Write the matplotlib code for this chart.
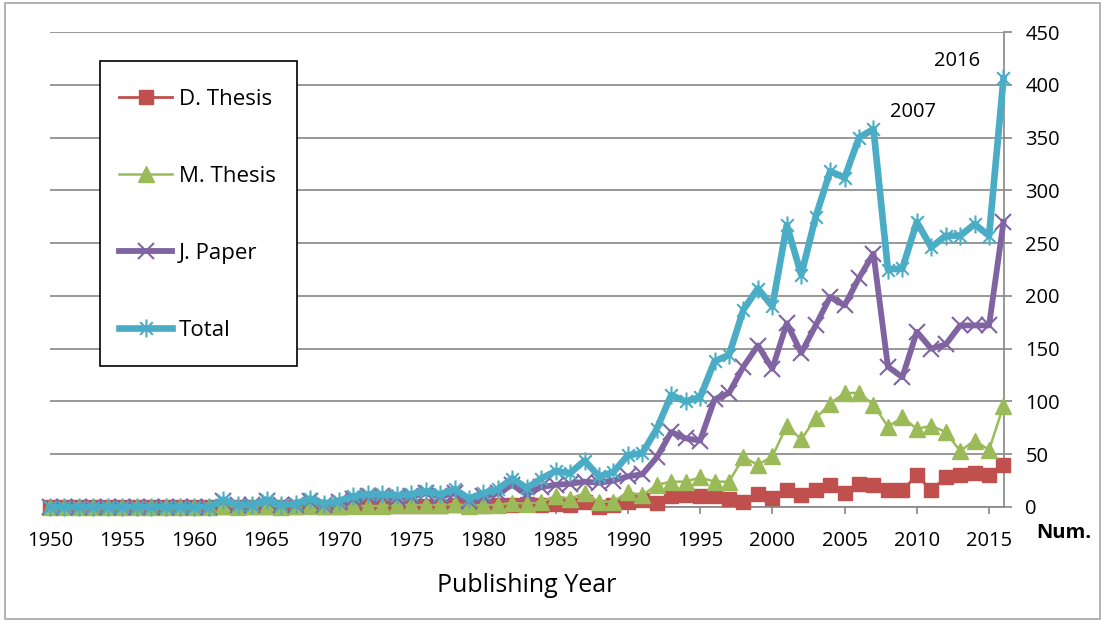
import matplotlib.pyplot as plt
import numpy as np
from matplotlib.path import Path
from matplotlib.patches import Rectangle

plt.rcParams['font.family'] = ['Open Sans', 'DejaVu Sans']

# publication counts per year
years = np.arange(1950, 2017)

d_thesis = [0, 0, 0, 0, 0, 0, 0, 0, 0, 0,
            0, 0, 0, 0, 0, 0, 0, 0, 1, 0,
            0, 1, 1, 1, 1, 1, 1, 1, 2, 1,
            1, 2, 2, 3, 2, 3, 2, 5, 0, 2,
            5, 7, 4, 10, 11, 10, 10, 8, 5, 12,
            9, 16, 11, 16, 21, 13, 22, 21, 16, 16,
            30, 16, 28, 30, 32, 30, 40]

m_thesis = [0, 0, 0, 0, 0, 0, 0, 0, 0, 0,
            0, 0, 1, 0, 1, 1, 0, 1, 1, 1,
            1, 1, 1, 1, 2, 2, 2, 2, 3, 1,
            2, 2, 4, 3, 5, 10, 8, 13, 5, 5,
            14, 11, 21, 24, 24, 28, 24, 24, 47, 40,
            48, 77, 64, 84, 98, 108, 108, 97, 76, 85,
            74, 77, 71, 53, 63, 54, 96]

j_paper = [0, 0, 0, 0, 0, 0, 0, 0, 0, 0,
           0, 0, 6, 2, 2, 6, 2, 2, 6, 2,
           5, 8, 10, 10, 9, 10, 13, 10, 13, 6,
           10, 13, 21, 12, 19, 21, 22, 24, 23, 25,
           29, 31, 47, 71, 65, 63, 102, 108, 133, 153,
           131, 174, 146, 172, 199, 191, 217, 240, 133, 123,
           166, 150, 154, 172, 172, 172, 270]

total = [0, 0, 0, 0, 0, 0, 0, 0, 0, 0,
         0, 0, 7, 2, 2, 7, 2, 3, 8, 3,
         6, 10, 12, 12, 11, 12, 15, 12, 17, 8,
         13, 17, 27, 18, 27, 34, 32, 44, 29, 33,
         49, 51, 74, 106, 100, 104, 138, 144, 187, 207,
         190, 267, 220, 275, 318, 312, 350, 358, 225, 226,
         270, 246, 257, 257, 268, 257, 406]

W, H = 1101, 621
fig = plt.figure(figsize=(W / 100, H / 100), dpi=100)
ax = fig.add_axes([50 / W, 1 - 507 / H, (1003.5 - 50) / W, (507 - 32) / H])

# asterisk marker: vertical bar plus an x
star = Path([(0, -1), (0, 1), (-0.7, -0.7), (0.7, 0.7), (-0.7, 0.7), (0.7, -0.7)],
            [Path.MOVETO, Path.LINETO, Path.MOVETO, Path.LINETO, Path.MOVETO, Path.LINETO])

ax.plot(years, d_thesis, color='#C0504D', lw=2, marker='s', ms=10,
        label='D. Thesis', clip_on=False, zorder=3)
ax.plot(years, m_thesis, color='#9BBB59', lw=1.8, marker='^', ms=11,
        label='M. Thesis', clip_on=False, zorder=4)
ax.plot(years, j_paper, color='#8064A2', lw=4.2, marker='x', ms=11, mew=1.5,
        label='J. Paper', clip_on=False, zorder=5)
ax.plot(years, total, color='#4BACC6', lw=4.8, marker=star, ms=13, mew=1.5,
        mfc='none', label='Total', clip_on=False, zorder=6)

ax.set_xlim(1950, 2016)
ax.set_ylim(0, 450)
ax.set_xticks(range(1950, 2016, 5))
ax.set_yticks(range(0, 451, 50))
ax.yaxis.tick_right()
ax.grid(axis='y', color='#868686', lw=1.2)
ax.set_axisbelow(True)

for side in ['left', 'top']:
    ax.spines[side].set_visible(False)
for side in ['right', 'bottom']:
    ax.spines[side].set_color('#868686')
    ax.spines[side].set_linewidth(1.2)

ax.tick_params(axis='x', length=5, width=1.2, color='#868686', labelsize=14.5, pad=12)
ax.tick_params(axis='y', length=5.8, width=1.2, color='#868686', labelsize=14.5, pad=10)

ax.annotate('2016', xy=(2016, total[-1]), xytext=(-33.5, 12.5), textcoords='offset points',
            ha='center', va='center', fontsize=14.5)
ax.annotate('2007', xy=(2007, total[57]), xytext=(28.4, 12.3), textcoords='offset points',
            ha='center', va='center', fontsize=14.5)

# legend entries without frame; the box is drawn separately underneath
leg = ax.legend(loc='center left', bbox_to_anchor=(119 / W, 1 - 215 / H),
                bbox_transform=fig.transFigure, frameon=False, borderaxespad=0,
                fontsize=16, handlelength=2.4, handletextpad=0.3,
                labelspacing=2.52, borderpad=0)
leg.set_zorder(10)
ax.add_patch(Rectangle((100 / W, 1 - 366 / H), 197 / W, 305 / H, fc='white',
                       ec='black', lw=1.2, transform=fig.transFigure,
                       clip_on=False, zorder=9))

fig.text(527 / W, 1 - 586 / H, 'Publishing Year', ha='center', va='center', fontsize=18)
fig.text(1064 / W, 1 - 533 / H, 'Num.', ha='center', va='center', fontsize=14.5,
         fontweight='bold')

fig.patches.append(Rectangle((5 / W, 2 / H), 1095 / W, 616 / H, fill=False,
                             ec='#A6A6A6', lw=1.2, transform=fig.transFigure))

fig.savefig('out.png', dpi=100)
